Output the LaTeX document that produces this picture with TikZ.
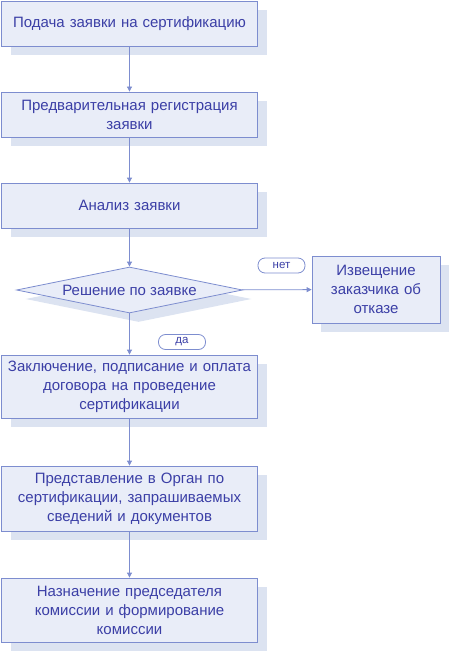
\documentclass[tikz,border=0pt]{standalone}
\usepackage{fontspec}
\setmainfont{Liberation Sans}
\usetikzlibrary{shapes.geometric,shadows,arrows.meta}
\definecolor{boxfill}{HTML}{E9EDF8}
\definecolor{boxline}{HTML}{7D8DCF}
\definecolor{boxtext}{HTML}{3B3FA6}
\definecolor{shadowc}{HTML}{DCE3F1}
\tikzset{
  stage/.style={draw=boxline, fill=boxfill, line width=0.8pt, text=boxtext,
    align=center, inner sep=2pt, text width=#1,
    drop shadow={shadow xshift=9pt, shadow yshift=-9pt, fill=shadowc, opacity=1}},
  stage/.default=252pt,
  choice/.style={diamond, aspect=4.9, draw=boxline, fill=boxfill, line width=0.8pt, text=boxtext,
    inner sep=0pt, minimum width=226pt, minimum height=46pt,
    drop shadow={shadow xshift=9pt, shadow yshift=-9pt, fill=shadowc, opacity=1}},
  tag/.style={draw=boxline, fill=white, rounded corners=7pt, line width=0.8pt,
    text=boxtext, font=\fontsize{11.5}{13}\selectfont, minimum width=47pt,
    minimum height=15pt, inner sep=0pt},
  flow/.style={draw=boxline, line width=0.8pt, -{Triangle[length=5pt,width=5pt]}}
}
\begin{document}
\begin{tikzpicture}[x=1pt, y=-1pt, font=\fontsize{15}{19}\selectfont]
    \useasboundingbox (0,0) rectangle (450,655);
    \node[stage, minimum height=45pt] (podacha) at (129.5,23.5) {Подача заявки на сертификацию};
    \node[stage, minimum height=45pt] (registr) at (129.5,114.5) {Предварительная регистрация\\заявки};
    \node[stage, minimum height=45pt] (analiz) at (129.5,205.5) {Анализ заявки};
    \node[choice] (reshenie) at (129.5,290) {Решение по заявке};
    \node[stage=124pt, minimum height=67pt] (otkaz) at (376,289.5) {Извещение\\заказчика об\\отказе};
    \node[stage, minimum height=63pt] (dogovor) at (129.5,386.5) {Заключение, подписание и оплата\\договора на проведение\\сертификации};
    \node[stage, minimum height=65pt] (organ) at (129.5,498.5) {Представление в Орган по\\сертификации, запрашиваемых\\сведений и документов};
    \node[stage, minimum height=64pt] (komissia) at (129.5,610) {Назначение председателя\\комиссии и формирование\\комиссии};
    \node[tag] (net) at (281.5,265.5) {нет};
    \node[tag] (da) at (182,342) {да};

    \draw[flow] (podacha) -- (registr);
    \draw[flow] (registr) -- (analiz);
    \draw[flow] (analiz) -- (reshenie);
    \draw[flow] (reshenie) -- (otkaz);
    \draw[flow] (reshenie) -- (dogovor);
    \draw[flow] (dogovor) -- (organ);
    \draw[flow] (organ) -- (komissia);
\end{tikzpicture}
\end{document}
